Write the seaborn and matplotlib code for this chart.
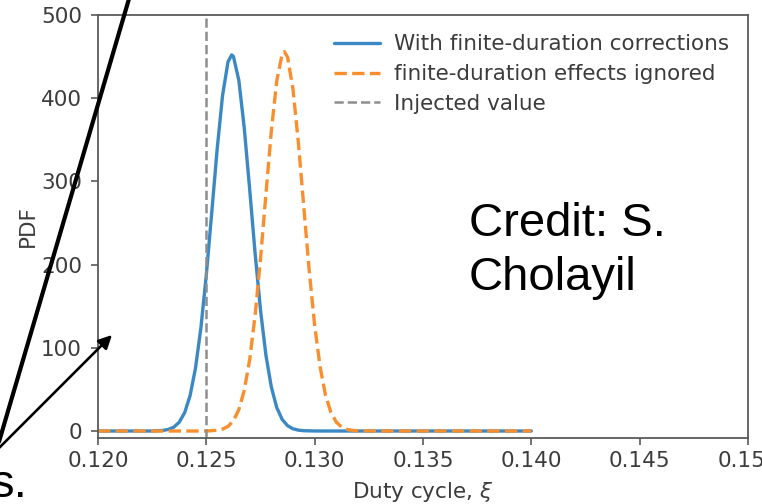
import matplotlib
matplotlib.use("Agg")
import matplotlib.pyplot as plt
from matplotlib.patches import FancyArrowPatch
from matplotlib.lines import Line2D
import seaborn as sns
import pandas as pd

# Posterior density of the duty cycle, with and without finite-duration corrections
xi_corr = [0.1200, 0.1225, 0.12300, 0.12325, 0.12350, 0.12375, 0.12400, 0.12425,
           0.12450, 0.12475, 0.12500, 0.12525, 0.12550, 0.12575, 0.12600, 0.12617,
           0.12625, 0.12650, 0.12675, 0.12700, 0.12725, 0.12750, 0.12775, 0.12800,
           0.12825, 0.12850, 0.12875, 0.12900, 0.12925, 0.12950, 0.1300, 0.1310,
           0.1400]
pdf_corr = [0.0, 0.0, 0.72, 1.91, 4.67, 10.6, 22.1, 42.5,
            75.6, 124.1, 187.9, 262.6, 338.9, 403.6, 443.7, 452.0,
            450.2, 421.5, 364.3, 290.6, 213.9, 145.4, 91.2, 52.8,
            28.2, 13.9, 6.33, 2.66, 1.03, 0.36, 0.03, 0.0,
            0.0]

xi_ign = [0.1200, 0.1250, 0.12550, 0.12575, 0.12600, 0.12625, 0.12650, 0.12675,
          0.12700, 0.12725, 0.12750, 0.12775, 0.12800, 0.12825, 0.12850, 0.12860,
          0.12875, 0.12900, 0.12925, 0.12950, 0.12975, 0.13000, 0.13025, 0.13050,
          0.13075, 0.13100, 0.13125, 0.13150, 0.13175, 0.13200, 0.1330, 0.1400]
pdf_ign = [0.0, 0.0, 0.86, 2.27, 5.51, 12.4, 25.6, 48.8,
           85.7, 138.7, 206.9, 284.5, 360.5, 420.9, 453.0, 456.0,
           449.3, 410.8, 346.1, 268.7, 192.3, 126.8, 77.1, 43.2,
           22.3, 10.6, 4.65, 1.88, 0.70, 0.24, 0.0, 0.0]

xi_injected = 0.125

x_ticks = [0.120, 0.125, 0.130, 0.135, 0.140, 0.145, 0.150]
x_tick_labels = ["0.120", "0.125", "0.130", "0.135", "0.140", "0.145", "0.150"]
y_ticks = [0, 100, 200, 300, 400, 500]

label_corr = "With finite-duration corrections"
label_ign = "finite-duration effects ignored"
label_inj = "Injected value"

W, H = 762, 504
FS = 15.5
sns.set_style("ticks")
plt.rcParams["font.family"] = ["DejaVu Sans"]
text_col = "#3c3c3c"
spine_col = "#5a5a5a"

fig = plt.figure(figsize=(W / 100, H / 100), dpi=100)
ax = fig.add_axes([98 / W, 1 - 438 / H, (748 - 98) / W, (438 - 15) / H])

blue = "#3a88c4"
orange = "#f98e2f"
gray = "#8e8e8e"

df_corr = pd.DataFrame({"xi": xi_corr, "pdf": pdf_corr})
df_ign = pd.DataFrame({"xi": xi_ign, "pdf": pdf_ign})

sns.lineplot(data=df_corr, x="xi", y="pdf", ax=ax, color=blue, linewidth=2.4,
             label=label_corr)
sns.lineplot(data=df_ign, x="xi", y="pdf", ax=ax, color=orange, linewidth=2.4,
             linestyle="--", label=label_ign)
ax.axvline(xi_injected, color=gray, linewidth=1.8, linestyle="--", label=label_inj)

ax.set_xlim(0.120, 0.150)
ax.set_ylim(-8.4, 500)
ax.set_xticks(x_ticks)
ax.set_xticklabels(x_tick_labels)
ax.set_yticks(y_ticks)
ax.tick_params(axis="both", labelsize=FS, colors=text_col, length=5, width=1.2,
               color=spine_col)
ax.tick_params(axis="x", pad=4.5)
ax.tick_params(axis="y", pad=6.5)
for s in ax.spines.values():
    s.set_color(spine_col)
    s.set_linewidth(1.3)
    s.set_visible(True)

ax.set_xlabel("Duty cycle, $\\xi$", fontsize=FS, color=text_col, labelpad=6)
ax.set_ylabel("PDF", fontsize=FS, color=text_col, labelpad=2.5)

handles = [Line2D([], [], color=blue, linewidth=2.4),
           Line2D([], [], color=orange, linewidth=2.4, linestyle="--"),
           Line2D([], [], color=gray, linewidth=1.8, linestyle="--")]
leg = ax.legend(handles, [label_corr, label_ign, label_inj], loc="upper right",
                frameon=False, fontsize=FS, handlelength=2.1, handletextpad=0.65,
                labelspacing=0.45, borderaxespad=0.5)
for t in leg.get_texts():
    t.set_color(text_col)


def fx(px):
    return px / W


def fy(py):
    return 1 - py / H


# Slide annotation overlaid on the figure
fig.add_artist(Line2D([fx(-4), fx(131)], [fy(452), fy(-8)], color="black",
                      linewidth=3.0, transform=fig.transFigure, clip_on=False))
fig.add_artist(FancyArrowPatch((fx(-2), fy(449)), (fx(112), fy(335)),
                               transform=fig.transFigure, arrowstyle="-|>",
                               mutation_scale=20, color="black", linewidth=1.9,
                               shrinkA=0, shrinkB=0, clip_on=False))

fig.text(fx(469), fy(290), "Credit: S.\nCholayil", fontsize=34,
         family=["Liberation Sans", "DejaVu Sans"], color="black",
         ha="left", va="baseline", linespacing=1.3)
fig.text(fx(-9), fy(497), "s.", fontsize=34,
         family=["Liberation Sans", "DejaVu Sans"], color="black",
         ha="left", va="baseline")

fig.savefig("out.png", dpi=100)
